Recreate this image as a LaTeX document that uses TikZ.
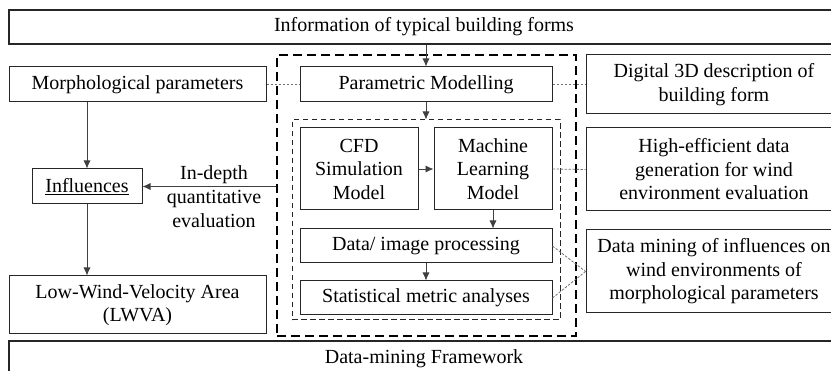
\documentclass[tikz,border=0pt]{standalone}
\usepackage{fontspec}
\setmainfont{Liberation Serif}
\usetikzlibrary{arrows.meta}
\begin{document}
\begin{tikzpicture}[x=1pt,y=-1pt,
  box/.style={draw=black!85,line width=1pt,inner sep=0pt,align=center,
    font=\fontsize{20}{23.5}\selectfont},
  bigbox/.style={box,line width=1.3pt},
  outerdash/.style={draw=black,line width=1.8pt,dash pattern=on 9pt off 5pt,inner sep=0pt},
  innerdash/.style={draw=black!85,line width=1pt,dash pattern=on 5.5pt off 3.5pt,inner sep=0pt},
  arr/.style={draw=black!75,line width=0.8pt,-{Latex[length=8pt,width=7pt]}},
  dotline/.style={draw=black!55,line width=0.8pt,dash pattern=on 2.5pt off 1.5pt},
  lbl/.style={align=center,inner sep=0pt,font=\fontsize{20}{24}\selectfont}]
\useasboundingbox (0,0) rectangle (831,371);
\clip (0,0) rectangle (831,371);
\fill[white] (0,0) rectangle (831,371);

% outer frame boxes
\node[bigbox,minimum width=830pt,minimum height=34pt] (top) at (424,27) {Information of typical building forms};
\node[bigbox,minimum width=830pt,minimum height=36pt] (bottom) at (424,359) {Data-mining Framework};

% dashed groups
\node[outerdash,minimum width=299pt,minimum height=281pt] (outer) at (426.5,195.5) {};
\node[innerdash,minimum width=268pt,minimum height=200pt] (inner) at (426,220) {};

% left column
\node[box,minimum width=257pt,minimum height=35pt] (morph) at (137.5,84.5) {Morphological parameters};
\node[box,minimum width=110pt,minimum height=35pt] (infl) at (87,186.5) {\underline{Influences}};
\node[box,minimum width=257pt,minimum height=58pt] (lwva) at (137.5,305) {Low-Wind-Velocity Area\\(LWVA)};

% middle column
\node[box,minimum width=252pt,minimum height=35pt] (param) at (426,84.5) {Parametric Modelling};
\node[box,minimum width=118pt,minimum height=82pt] (cfd) at (359,169) {CFD\\Simulation\\Model};
\node[box,minimum width=118pt,minimum height=82pt] (ml) at (493,169) {Machine\\Learning\\Model};
\node[box,minimum width=252pt,minimum height=34pt] (data) at (426,246) {Data/ image processing};
\node[box,minimum width=252pt,minimum height=34pt] (stat) at (426,298) {Statistical metric analyses};

% right column
\node[box,minimum width=256pt,minimum height=59pt] (digital) at (714,84.5) {Digital 3D description of\\building form};
\node[box,minimum width=256pt,minimum height=83pt] (high) at (714,169.5) {High-efficient data\\generation for wind\\environment evaluation};
\node[box,minimum width=256pt,minimum height=83pt] (dmine) at (714,271.5) {Data mining of influences on\\wind environments of\\morphological parameters};

% label
\node[lbl] (evallbl) at (214,197) {In-depth\\quantitative\\evaluation};

% arrows
\draw[arr] (top.south -| param) -- (param.north);
\draw[arr] (param.south) -- (inner.north -| param);
\draw[arr] (cfd.east) -- (ml.west);
\draw[arr] (ml.south) -- (data.north -| ml);
\draw[arr] (data.south) -- (stat.north);
\draw[arr] (morph.south -| infl) -- (infl.north);
\draw[arr] (infl.south) -- (lwva.north -| infl);
\draw[arr] (outer.west |- infl) -- (infl.east);

% dotted links
\draw[dotline] (morph.east) -- (param.west);
\draw[dotline] (param.east) -- (digital.west);
\draw[dotline] (ml.east) -- (high.west);
\draw[dotline] (data.east) -- (dmine.west);
\draw[dotline] (stat.east) -- (dmine.west);
\end{tikzpicture}
\end{document}
